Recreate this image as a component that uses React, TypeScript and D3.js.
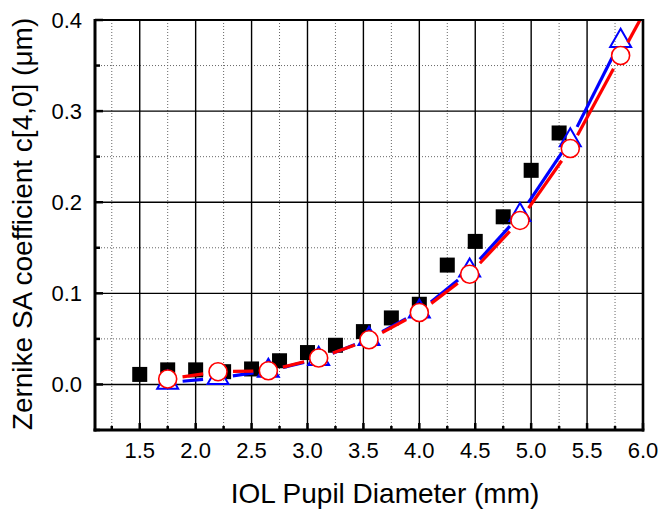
import React from 'react';
import * as d3 from 'd3';

// measured data (black squares)
const measX = [1.5, 1.75, 2.0, 2.25, 2.5, 2.75, 3.0, 3.25, 3.5, 3.75, 4.0, 4.25, 4.5, 4.75, 5.0, 5.25];
const measY = [0.011, 0.016, 0.016, 0.014, 0.017, 0.026, 0.035, 0.043, 0.058, 0.073, 0.088, 0.131, 0.157, 0.184, 0.235, 0.276];

// model series (blue triangles, red circles)
const modelX = [1.75, 2.2, 2.65, 3.1, 3.55, 4.0, 4.45, 4.9, 5.35, 5.8];
const blueY = [0.002, 0.007, 0.015, 0.028, 0.05, 0.08, 0.125, 0.186, 0.268, 0.377];
const redY = [0.006, 0.014, 0.015, 0.029, 0.049, 0.079, 0.121, 0.18, 0.259, 0.361];
// the red line runs on out of the frame on the right
const redEnd = [6.0, 0.406];

const xTicks = [1.5, 2.0, 2.5, 3.0, 3.5, 4.0, 4.5, 5.0, 5.5, 6.0];
const xMinor = [1.25, 1.75, 2.25, 2.75, 3.25, 3.75, 4.25, 4.75, 5.25, 5.75];
const yTicks = [0.0, 0.1, 0.2, 0.3, 0.4];
const yMinor = [-0.05, 0.05, 0.15, 0.25, 0.35];

const W = 662;
const H = 512;
const left = 95, right = 643, top = 20, bottom = 430;
const font = 'Liberation Sans, Arial, sans-serif';

const x = d3.scaleLinear().domain([1.1, 6.0]).range([left, right]);
const y = d3.scaleLinear().domain([-0.05, 0.4]).range([bottom, top]);

// segments between points, cut back near each marker (gapped line)
function gapped(pts: number[][], gap: number, lastIsMarker: boolean) {
  const segs: number[][] = [];
  for (let i = 0; i < pts.length - 1; i++) {
    const [x1, y1] = pts[i];
    const [x2, y2] = pts[i + 1];
    const dx = x2 - x1, dy = y2 - y1;
    const len = Math.hypot(dx, dy);
    const g2 = i + 1 === pts.length - 1 && !lastIsMarker ? 0 : gap;
    if (len <= gap + g2) continue;
    const ux = dx / len, uy = dy / len;
    segs.push([x1 + ux * gap, y1 + uy * gap, x2 - ux * g2, y2 - uy * g2]);
  }
  return segs;
}

function App() {
  const tri = d3.symbol().type(d3.symbolTriangle).size(190)();
  const bluePts = modelX.map((d, i) => [x(d), y(blueY[i])]);
  const redPts = modelX.map((d, i) => [x(d), y(redY[i])]).concat([[x(redEnd[0]), y(redEnd[1])]]);
  const blueSegs = gapped(bluePts, 15, true);
  const redSegs = gapped(redPts, 15, false);

  return (
    <svg width={W} height={H} style={{ position: 'absolute', left: 0, top: 0 }} fontFamily={font}>
      <rect width={W} height={H} fill="#fff" />
      <defs>
        <clipPath id="plot">
          <rect x={left} y={top} width={right - left} height={bottom - top} />
        </clipPath>
      </defs>

      {/* minor grid, dotted */}
      {xMinor.map(t => (
        <line key={'xm' + t} x1={x(t)} x2={x(t)} y1={top} y2={bottom} stroke="#666" strokeWidth={1} strokeDasharray="1,2" />
      ))}
      {yMinor.map(t => (
        <line key={'ym' + t} x1={left} x2={right} y1={y(t)} y2={y(t)} stroke="#666" strokeWidth={1} strokeDasharray="1,2" />
      ))}
      {/* major grid */}
      {xTicks.slice(0, -1).map(t => (
        <line key={'xg' + t} x1={x(t)} x2={x(t)} y1={top} y2={bottom} stroke="#000" strokeWidth={1.4} />
      ))}
      {yTicks.slice(0, -1).map(t => (
        <line key={'yg' + t} x1={left} x2={right} y1={y(t)} y2={y(t)} stroke="#000" strokeWidth={1.4} />
      ))}

      {/* ticks */}
      {yTicks.map(t => (
        <line key={'yt' + t} x1={left} x2={left + 8} y1={y(t)} y2={y(t)} stroke="#000" strokeWidth={2.5} />
      ))}
      {yMinor.map(t => (
        <line key={'ymt' + t} x1={left} x2={left + 5} y1={y(t)} y2={y(t)} stroke="#000" strokeWidth={2.5} />
      ))}
      {xTicks.map(t => (
        <line key={'xt' + t} x1={x(t)} x2={x(t)} y1={bottom} y2={bottom - 7} stroke="#000" strokeWidth={2.5} />
      ))}
      {xMinor.map(t => (
        <line key={'xmt' + t} x1={x(t)} x2={x(t)} y1={bottom} y2={bottom - 4} stroke="#000" strokeWidth={2.5} />
      ))}

      <g clipPath="url(#plot)">
        {measX.map((d, i) => (
          <rect key={'s' + i} x={x(d) - 7.5} y={y(measY[i]) - 7.5} width={15} height={15} fill="#000" />
        ))}
        {blueSegs.map((s, i) => (
          <line key={'bl' + i} x1={s[0]} y1={s[1]} x2={s[2]} y2={s[3]} stroke="#0000ff" strokeWidth={3.2} />
        ))}
        {modelX.map((d, i) => (
          <path key={'t' + i} d={tri || ''} transform={`translate(${x(d)},${y(blueY[i])})`} fill="none" stroke="#0000ff" strokeWidth={2} />
        ))}
        {redSegs.map((s, i) => (
          <line key={'rl' + i} x1={s[0]} y1={s[1]} x2={s[2]} y2={s[3]} stroke="#ff0000" strokeWidth={3.2} />
        ))}
        {modelX.map((d, i) => (
          <circle key={'c' + i} cx={x(d)} cy={y(redY[i])} r={9} fill="#fff" stroke="#ff0000" strokeWidth={1.6} />
        ))}
      </g>

      {/* frame */}
      <line x1={left} x2={right} y1={top} y2={top} stroke="#000" strokeWidth={2.2} />
      <line x1={right} x2={right} y1={top - 1} y2={bottom + 1.5} stroke="#000" strokeWidth={2.6} />
      <line x1={left} x2={left} y1={top - 1} y2={bottom + 1.5} stroke="#000" strokeWidth={3} />
      <line x1={left - 1.5} x2={right + 1.3} y1={bottom} y2={bottom} stroke="#000" strokeWidth={3} />

      {/* tick labels */}
      {yTicks.map(t => (
        <text key={'yl' + t} x={82} y={y(t)} dy="0.35em" textAnchor="end" fontSize={22} fill="#000">
          {d3.format('.1f')(t)}
        </text>
      ))}
      {xTicks.map(t => (
        <text key={'xl' + t} x={x(t)} y={458} textAnchor="middle" fontSize={22} fill="#000">
          {d3.format('.1f')(t)}
        </text>
      ))}

      <text x={385} y={503} textAnchor="middle" fontSize={28} fill="#000">IOL Pupil Diameter (mm)</text>
      <text transform="translate(32,224) rotate(-90)" textAnchor="middle" fontSize={28} fill="#000">
        Zernike SA coefficient c[4,0] (μm)
      </text>
    </svg>
  );
}

export default App;
